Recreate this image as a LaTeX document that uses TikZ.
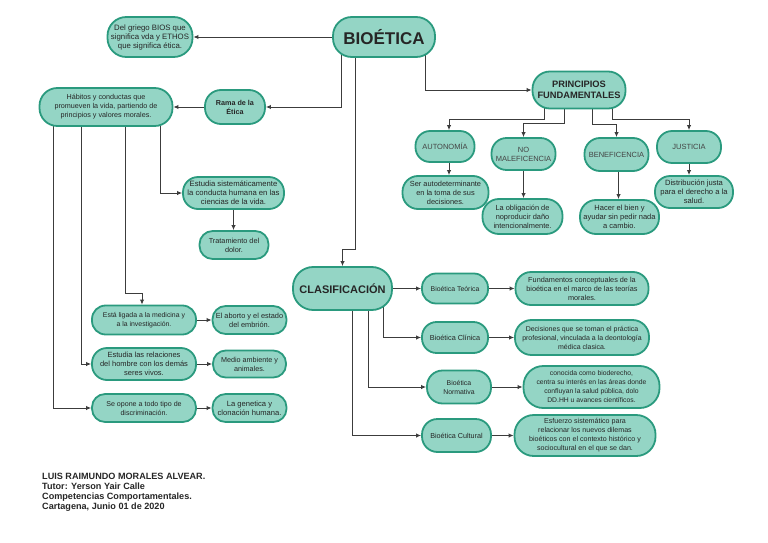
\documentclass[tikz,border=0pt]{standalone}
\usepackage{fontspec}
\setmainfont{Liberation Sans}
\usetikzlibrary{arrows.meta,backgrounds,calc}
\definecolor{fillc}{HTML}{94D5C5}
\definecolor{bordc}{HTML}{2A9A7E}
\definecolor{txt}{HTML}{262626}
\definecolor{lightt}{HTML}{444444}
\definecolor{conc}{HTML}{3C3C3C}
\tikzset{
  box/.style args={#1/#2}{draw=bordc, fill=fillc, line width=1.8pt,
    minimum width=#1pt, minimum height=#2pt, rounded corners={0.47*#2pt},
    align=center, inner sep=1pt, text=txt,
    font=\fontsize{7.2}{9}\selectfont},
  fs/.style={font=\fontsize{#1}{9}\selectfont},
  fsb/.style={font=\bfseries\fontsize{#1}{9}\selectfont},
  upp/.style={text=lightt, font=\fontsize{7.5}{9}\selectfont},
  conn/.style={draw=conc, line width=0.9pt, -{Latex[length=5pt,width=4.4pt]}}
}
\begin{document}
\begin{tikzpicture}[x=1pt,y=-1pt]
\useasboundingbox (0,0) rectangle (768,543);
% top
\node[box=102/40, font=\bfseries\fontsize{17}{20}\selectfont, text=txt] (bio) at (384,37) {BIOÉTICA};
\node[box=85/40, fs=7.8] (griego) at (150,37) {Del griego BIOS que\\significa vda y ETHOS\\que significa ética.};
\node[box=60/34, fsb=7.2] (rama) at (235,107) {Rama de la\\Ética};
\node[box=133/38, fs=7.2] (hab) at (106,107) {Hábitos y conductas que\\promueven la vida, partiendo de\\principios y valores morales.};
% principios
\node[box=93/37, font=\bfseries\fontsize{9.3}{11.5}\selectfont] (princ) at (579,90) {PRINCIPIOS\\FUNDAMENTALES};
\node[box=59/31, upp] (auto) at (445,146.5) {AUTONOMÍA};
\node[box=64/32, upp] (nomal) at (523.5,154) {NO\\MALEFICENCIA};
\node[box=64/33, upp] (benef) at (616.5,154.5) {BENEFICENCIA};
\node[box=64/32, upp] (just) at (689,147) {JUSTICIA};
\node[box=86/33, fs=7.4] (ser) at (445.5,192.5) {Ser autodeterminante\\en la toma de sus\\decisiones.};
\node[box=80/35, fs=7.4] (oblig) at (522.5,216.5) {La obligación de\\noproducir daño\\intencionalmente.};
\node[box=79/34, fs=7.5] (hacer) at (619.5,217) {Hacer el bien y\\ayudar sin pedir nada\\a cambio.};
\node[box=78/32, fs=7.6] (dist) at (694,192) {Distribución justa\\para el derecho a la\\salud.};
% left column
\node[box=101/32, fs=7.7] (estsist) at (233.5,193) {Estudia sistemáticamente\\la conducta humana en las\\ciencias de la vida.};
\node[box=69/28, fs=7.3] (dolor) at (234,245) {Tratamiento del\\dolor.};
\node[box=104/29, fs=6.9] (ligada) at (144,320) {Está ligada a la medicina y\\a la investigación.};
\node[box=74/28, fs=7.4] (aborto) at (249.5,320) {El aborto y el estado\\del embrión.};
\node[box=104/32, fs=7.5] (relac) at (144,364) {Estudia las relaciones\\del hombre con los demás\\seres vivos.};
\node[box=73/27, fs=7.2] (medio) at (249.5,364) {Medio ambiente y\\animales.};
\node[box=104/28, fs=7.1] (opone) at (144,408) {Se opone a todo tipo de\\discriminación.};
\node[box=74/28, fs=7.6] (genet) at (249.5,408) {La genetica y\\clonación humana.};
% clasificacion
\node[box=99/43, font=\bfseries\fontsize{11}{13}\selectfont] (clasif) at (342.5,288.5) {CLASIFICACIÓN};
\node[box=66/30, fs=6.9] (teorica) at (455,288.5) {Bioética Teórica};
\node[box=66/31, fs=7.3] (clinica) at (455,337.5) {Bioética Clínica};
\node[box=64/33, fs=6.9] (normativa) at (459,387) {Bioética\\Normativa};
\node[box=69/33, fs=7.2] (cultural) at (456.5,435.5) {Bioética Cultural};
\node[box=133/33, fs=7.3] (fund) at (582,288.5) {Fundamentos conceptuales de la\\bioética en el marco de las teorías\\morales.};
\node[box=134/35, fs=7.0] (decis) at (582,337.5) {Decisiones que se toman el práctica\\profesional, vinculada a la deontología\\médica clasica.};
\node[box=136/42, fs=6.8] (conoc) at (591.5,387) {conocida como bioderecho,\\centra su interés en las áreas donde\\confluyan la salud pública, dolo\\DD.HH u avances científicos.};
\node[box=141/41, fs=7.1] (esf) at (585,435.5) {Esfuerzo sistemático para\\relacionar los nuevos dilemas\\bioéticos con el contexto histórico y\\sociocultural en el que se dan.};
% author
\node[anchor=north west, align=left, inner sep=0pt, text=txt,
  font=\bfseries\fontsize{9.1}{10.3}\selectfont] (autor) at (42,472.5)
  {LUIS RAIMUNDO MORALES ALVEAR.\\Tutor: Yerson Yair Calle\\Competencias Comportamentales.\\Cartagena, Junio 01 de 2020};
% connectors
\begin{pgfonlayer}{background}
\draw[conn] (bio) -- (griego);
\draw[conn] ([xshift=-43pt]bio.center) |- (rama.east);
\draw[conn] (rama) -- (hab);
\draw[conn] ([xshift=-29pt]bio.center) |- ([yshift=17pt]clasif.north) -- (clasif.north);
\draw[conn] ([xshift=41pt]bio.center) |- (princ.west);
\draw[conn] ([xshift=-35pt]princ.center) |- ([xshift=4pt,yshift=11pt]auto.north) -- ([xshift=4pt]auto.north);
\draw[conn] ([xshift=-15pt]princ.center) |- ([yshift=14pt]nomal.north) -- (nomal.north);
\draw[conn] ([xshift=13pt]princ.center) |- ([yshift=13pt]benef.north) -- (benef.north);
\draw[conn] ([xshift=33pt]princ.center) |- ([yshift=11pt]just.north) -- (just.north);
\draw[conn] ([xshift=4pt]auto.center) -- ([xshift=4pt]auto.center |- ser.north);
\draw[conn] (nomal.center) -- (nomal.center |- oblig.north);
\draw[conn] ([xshift=2pt]benef.center) -- ([xshift=2pt]benef.center |- hacer.north);
\draw[conn] (just.center) -- (just.center |- dist.north);
\draw[conn] ([xshift=54pt]hab.center) |- (estsist.west);
\draw[conn] (estsist.center) -- (estsist.center |- dolor.north);
\draw[conn] ([xshift=19pt]hab.center) |- ([xshift=-2pt,yshift=11pt]ligada.north) -- ([xshift=-2pt]ligada.north);
\draw[conn] ([xshift=-25pt]hab.center) |- (relac.west);
\draw[conn] ([xshift=-53pt]hab.center) |- (opone.west);
\draw[conn] (ligada) -- (aborto);
\draw[conn] (relac) -- (medio);
\draw[conn] (opone) -- (genet);
\draw[conn] (clasif) -- (teorica);
\draw[conn] ([xshift=41pt]clasif.center) |- (clinica.west);
\draw[conn] ([xshift=26pt]clasif.center) |- (normativa.west);
\draw[conn] ([xshift=10pt]clasif.center) |- (cultural.west);
\draw[conn] (teorica) -- (fund);
\draw[conn] (clinica) -- (decis);
\draw[conn] (normativa) -- (conoc);
\draw[conn] (cultural) -- (esf);
\end{pgfonlayer}
\end{tikzpicture}
\end{document}
